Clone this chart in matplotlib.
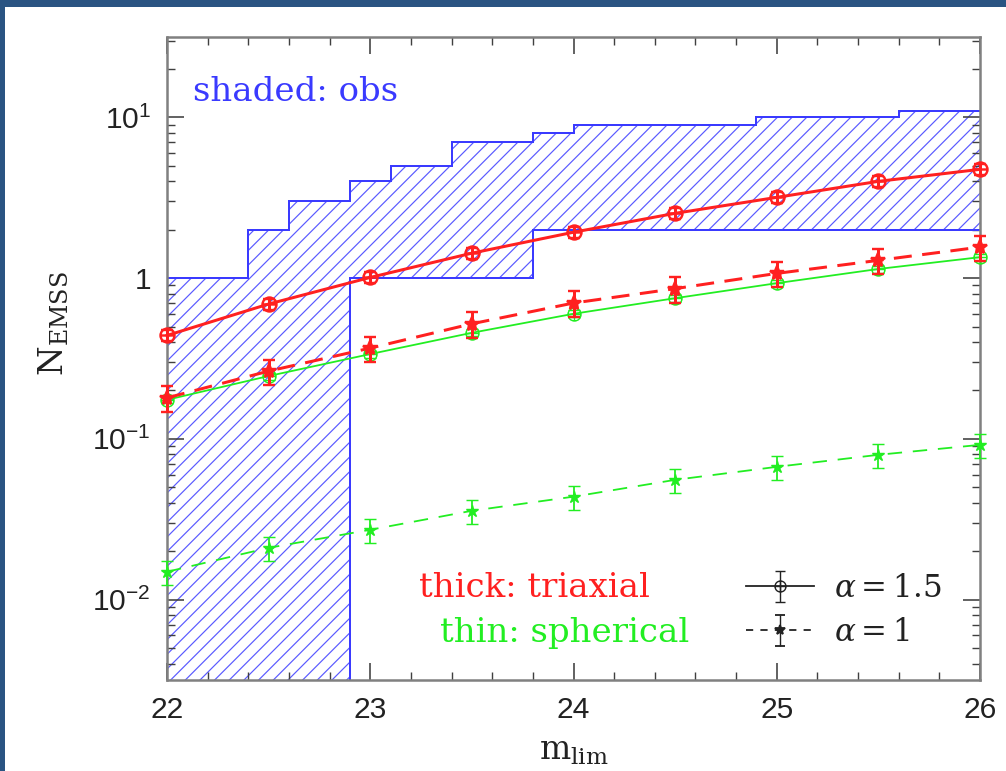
import numpy as np
import matplotlib
matplotlib.use("Agg")
import matplotlib.pyplot as plt
from matplotlib.path import Path
from matplotlib.patches import Rectangle
from matplotlib.ticker import FixedLocator, MultipleLocator, LogLocator, NullFormatter

# ---------------- data ----------------
m_lim = [22.0, 22.5, 23.0, 23.5, 24.0, 24.5, 25.0, 25.5, 26.0]
triaxial_a15 = [0.44, 0.69, 1.01, 1.43, 1.93, 2.53, 3.18, 4.0, 4.75]
triaxial_a10 = [0.18, 0.264, 0.367, 0.52, 0.70, 0.86, 1.07, 1.29, 1.56]
spherical_a15 = [0.175, 0.246, 0.337, 0.457, 0.60, 0.75, 0.93, 1.14, 1.35]
spherical_a10 = [0.0149, 0.021, 0.0272, 0.0357, 0.0437, 0.0556, 0.067, 0.0796, 0.0918]
relerr_triaxial_a15 = 0.08
relerr_triaxial_a10 = 0.18
relerr_spherical_a15 = 0.05
relerr_spherical_a10 = 0.17

obs_edges = [22.0, 22.4, 22.6, 22.9, 23.1, 23.4, 23.8, 24.0, 24.9, 25.6, 26.0]
obs_upper = [1, 2, 3, 4, 5, 7, 8, 9, 10, 11]
obs_lower = [0, 0, 0, 1, 1, 1, 2, 2, 2, 2]

xticks = [22, 23, 24, 25, 26]
yticks = [1e-2, 1e-1, 1, 10]
ytick_labels = [r'$\mathregular{10^{-2}}$', r'$\mathregular{10^{-1}}$', '1', r'$\mathregular{10^{1}}$']

# ---------------- style ----------------
DPI = 132
P = 72.0 / DPI  # points per pixel
RED = '#ff2020'
GREEN = '#22ee22'
BLUE = '#3a3aff'
HATCH = '#5a5aff'
plt.rcParams['hatch.linewidth'] = 1.2 * P
plt.rcParams['mathtext.fontset'] = 'dejavuserif'

fig = plt.figure(figsize=(1006 / DPI, 771 / DPI), dpi=DPI, facecolor='white')
# dark border strips (top and left)
fig.patches.append(Rectangle((0, 1 - 7 / 771), 1, 7 / 771, transform=fig.transFigure,
                             facecolor='#2a5482', edgecolor='none', zorder=-10))
fig.patches.append(Rectangle((0, 0), 5 / 1006, 1, transform=fig.transFigure,
                             facecolor='#2a5482', edgecolor='none', zorder=-10))

ax = fig.add_axes([167 / 1006, (771 - 680) / 771, (980 - 167) / 1006, (680 - 37) / 771])
ax.set_yscale('log')
ax.set_xlim(22, 26)
ax.set_ylim(10 ** -2.5, 10 ** 1.5)

# ---------------- observed (shaded) ----------------
floor = 1e-5
lower = np.array(obs_lower, dtype=float)
lower_draw = np.where(lower > 0, lower, floor)
upper = np.array(obs_upper, dtype=float)
ax.fill_between(obs_edges, np.append(lower_draw, lower_draw[-1]), np.append(upper, upper[-1]),
                step='post', facecolor='none', edgecolor=HATCH, hatch='///', linewidth=0, zorder=1)
ax.stairs(upper, obs_edges, color=BLUE, linewidth=2 * P, baseline=None, zorder=2)
ax.stairs(lower_draw, obs_edges, color=BLUE, linewidth=2 * P, baseline=None, zorder=2)

# circle-with-cross marker
circ = Path.unit_circle()
cross_marker = Path.make_compound_path(circ, Path([(-1, 0), (1, 0)]), Path([(0, -1), (0, 1)]))

def series(y, rel, color, lw, marker, ms, mfc, dashes=None, capsize=6, elw=None, z=5):
    y = np.array(y)
    c = ax.errorbar(m_lim, y, yerr=rel * y, color=color, linewidth=lw * P, marker=marker,
                    markersize=ms * P, mfc=mfc, mec=color, mew=lw * 0.8 * P,
                    capsize=capsize * P, capthick=(elw or lw) * P, elinewidth=(elw or lw) * P,
                    zorder=z, clip_on=False)
    if dashes is not None:
        c.lines[0].set_dashes(dashes)
    return c

series(triaxial_a15, relerr_triaxial_a15, RED, 3.0, cross_marker, 14, 'none', z=6)
series(triaxial_a10, relerr_triaxial_a10, RED, 3.0, '*', 15, RED, dashes=(6, 3.5), z=6)
series(spherical_a15, relerr_spherical_a15, GREEN, 1.8, cross_marker, 13, 'none', elw=1.8, z=5)
series(spherical_a10, relerr_spherical_a10, GREEN, 1.8, '*', 12, GREEN, dashes=(8, 6), elw=1.8, z=5)

# ---------------- axes styling ----------------
for s in ax.spines.values():
    s.set_color('#808080')
    s.set_linewidth(2.5 * P)
ax.xaxis.set_major_locator(FixedLocator(xticks))
ax.xaxis.set_minor_locator(MultipleLocator(0.2))
ax.yaxis.set_major_locator(FixedLocator(yticks))
ax.yaxis.set_minor_locator(LogLocator(base=10, subs=np.arange(2, 10), numticks=20))
ax.yaxis.set_minor_formatter(NullFormatter())
ax.set_yticklabels(ytick_labels)
ax.set_xticklabels([str(t) for t in xticks])
ax.tick_params(which='both', direction='in', top=True, right=True, colors='#404040')
ax.tick_params(which='major', length=17 * P, width=1.6 * P, pad=16 * P, labelsize=30 * P)
ax.tick_params(which='minor', length=8 * P, width=1.4 * P)
for lab in ax.get_xticklabels() + ax.get_yticklabels():
    lab.set_fontfamily('Liberation Sans')
    lab.set_color('#222222')

ax.set_xlabel(r'$\mathregular{m_{lim}}$', fontsize=33 * P, family='DejaVu Serif', color='#222222')
ax.xaxis.set_label_coords(0.5, -0.085)
ax.set_ylabel(r'$\mathregular{N_{EMSS}}$', fontsize=34 * P, family='DejaVu Serif', color='#222222')
ax.yaxis.set_label_coords(-0.118, 0.555)

# ---------------- annotations ----------------
FS = 34 * P
ax.text(193, 771 - 101, 'shaded: obs', transform=None, color=BLUE, fontsize=FS,
        family='DejaVu Serif', va='baseline', ha='left')
ax.text(419, 771 - 597, 'thick: triaxial', transform=None, color=RED, fontsize=FS,
        family='DejaVu Serif', va='baseline', ha='left')
ax.text(440, 771 - 642, 'thin: spherical', transform=None, color=GREEN, fontsize=FS,
        family='DejaVu Serif', va='baseline', ha='left')

# legend for alpha
h15 = ax.errorbar([np.nan], [np.nan], yerr=[np.nan], color='#222222', linewidth=1.8 * P,
                  marker=cross_marker, markersize=11 * P, mfc='none', mew=1.4 * P,
                  capsize=5 * P, elinewidth=1.4 * P)
h10 = ax.errorbar([np.nan], [np.nan], yerr=[np.nan], color='#222222', linewidth=1.8 * P,
                  marker='*', markersize=11 * P, mfc='#222222',
                  capsize=5 * P, elinewidth=1.4 * P)
h10.lines[0].set_dashes((4, 4))
leg = ax.legend([h15, h10], [r'$\alpha = 1.5$', r'$\alpha = 1$'], loc='upper left',
                bbox_to_anchor=(746 / 1006, 1 - 573 / 771), bbox_transform=fig.transFigure,
                frameon=False, borderpad=0, borderaxespad=0, handlelength=2.2,
                handletextpad=0.65, labelspacing=0.42, prop={'family': 'DejaVu Serif', 'size': 31 * P})
for t in leg.get_texts():
    t.set_color('#222222')

fig.savefig('out.png', dpi=DPI, facecolor='white')
